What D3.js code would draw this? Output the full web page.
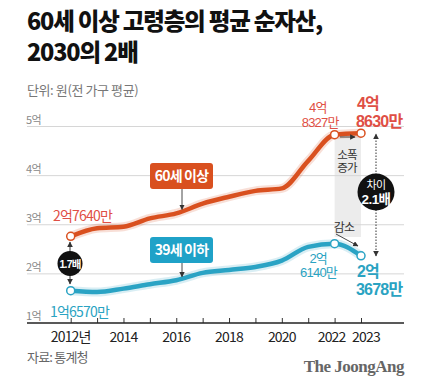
<!DOCTYPE html>
<html><head><meta charset="utf-8">
<script src="https://cdn.jsdelivr.net/npm/d3@7"></script>
<style>
html,body{margin:0;padding:0;background:#fff;}
svg{display:block;font-family:"Noto Sans CJK KR","Noto Sans",sans-serif;}
</style></head><body>
<script>
const years = [2012,2013,2014,2015,2016,2017,2018,2019,2020,2021,2022,2023];
const over60 = [2.764,2.93,2.96,3.13,3.23,3.43,3.57,3.69,3.74,4.30,4.8327,4.863];
const under39 = [1.657,1.63,1.70,1.79,1.87,2.02,2.08,2.14,2.27,2.55,2.614,2.3678];
const yTicks = [1,2,3,4,5];
const yTickLabels = ["1억","2억","3억","4억","5억"];
const xTickYears = [2012,2014,2016,2018,2020,2022,2023];
const xTickLabels = ["2012년","2014","2016","2018","2020","2022","2023"];
const seriesNames = ["60세 이상","39세 이하"];
const markedYears = [2012,2022,2023];

const W=430,H=380;
const ORANGE="#d9501f", BLUE="#2aa3c4", ORANGE_T="#df4f45", BLUE_T="#2aa3c2";
const LAB_FONT="'Liberation Sans','Noto Sans CJK KR',sans-serif";
const svg=d3.select("body").append("svg").attr("width",W).attr("height",H);

svg.append("text").attr("x",27).attr("y",30).attr("font-size",23.5).attr("font-weight",800)
  .attr("letter-spacing",-1.2).attr("fill","#111").text("60세 이상 고령층의 평균 순자산,");
svg.append("text").attr("x",27).attr("y",61).attr("font-size",23.5).attr("font-weight",800)
  .attr("letter-spacing",-1.2).attr("fill","#111").text("2030의 2배");
svg.append("text").attr("x",27).attr("y",94.5).attr("font-size",13).attr("fill","#777")
  .attr("letter-spacing",-0.4).text("단위: 원(전 가구 평균)");

const x=d3.scaleLinear().domain([2012,2023]).range([70.7,361]);
const y=d3.scaleLinear().domain([1,5]).range([323,126.5]);
const X0=27,X1=404;

// gray band
svg.append("rect").attr("x",x(2022)).attr("width",x(2023)-x(2022))
  .attr("y",y(4.83)).attr("height",y(2.75)-y(4.83)).attr("fill","#ececec");

// grid
yTicks.slice(1).forEach((t)=>{
  svg.append("line").attr("x1",X0).attr("x2",X1).attr("y1",y(t)).attr("y2",y(t))
    .attr("stroke","#d6d6d6").attr("stroke-width",1);
});
yTicks.forEach((t,i)=>{
  svg.append("text").attr("x",26).attr("y",y(t)-3).attr("font-size",11).attr("fill","#888")
    .attr("letter-spacing",-0.5).text(yTickLabels[i]);
});

// x axis
const ax=svg.append("g").attr("transform",`translate(0,${y(1)})`)
  .call(d3.axisBottom(x).tickValues(years).tickSize(-5).tickFormat(""));
ax.select(".domain").remove();
ax.selectAll(".tick line").attr("stroke","#333");
svg.append("line").attr("x1",X0).attr("x2",X1).attr("y1",y(1)).attr("y2",y(1)).attr("stroke","#222").attr("stroke-width",1.3);
xTickYears.forEach((yr,i)=>{
  let dx = yr===2022?-3:(yr===2023?5:0);
  svg.append("text").attr("x",x(yr)+dx).attr("y",342).attr("text-anchor","middle")
    .attr("font-size",14).attr("fill","#222").attr("letter-spacing",-0.8).text(xTickLabels[i]);
});

// lines
const line=d3.line().x((d,i)=>x(years[i])).y(d=>y(d)).curve(d3.curveMonotoneX);
[[over60,ORANGE],[under39,BLUE]].forEach(([data,c])=>{
  svg.append("path").attr("d",line(data)).attr("fill","none").attr("stroke",c)
    .attr("stroke-opacity",0.18).attr("stroke-width",9).attr("stroke-linejoin","round");
  svg.append("path").attr("d",line(data)).attr("fill","none").attr("stroke",c)
    .attr("stroke-width",4.5).attr("stroke-linejoin","round").attr("stroke-linecap","round");
  markedYears.forEach(yr=>{
    const i=years.indexOf(yr);
    svg.append("circle").attr("cx",x(yr)).attr("cy",y(data[i])).attr("r",4)
      .attr("fill","#fff").attr("stroke",c).attr("stroke-width",1.5);
  });
});

// arrow marker
const defs=svg.append("defs");
defs.append("marker").attr("id","ah").attr("viewBox","0 0 10 10").attr("refX",9).attr("refY",5)
  .attr("markerWidth",6).attr("markerHeight",6).attr("orient","auto-start-reverse")
  .append("path").attr("d","M0,0L10,5L0,10z").attr("fill","#333");

function interp(data,yr){const i=Math.floor(yr)-2012;const f=yr-Math.floor(yr);return data[i]*(1-f)+data[i+1]*f;}

// series boxes
[[seriesNames[0],ORANGE,163,over60],[seriesNames[1],"#1fa2c8",237,under39]].forEach(([name,c,top,data])=>{
  svg.append("rect").attr("x",150).attr("y",top).attr("width",63).attr("height",26).attr("rx",3).attr("fill",c);
  svg.append("text").attr("x",181.5).attr("y",top+18).attr("text-anchor","middle").attr("font-size",14)
    .attr("font-weight",700).attr("fill","#fff").attr("letter-spacing",-0.8).text(name);
  const ly=y(interp(data,2016.2));
  svg.append("line").attr("x1",182).attr("x2",182).attr("y1",top+26).attr("y2",ly-2)
    .attr("stroke","#333").attr("stroke-width",0.9).attr("marker-end","url(#ah)");
});

// value labels (multi-line as tspans in one text)
function lab(lines,xx,yy,c,size,wt,anchor,lh,fam){
  const t=svg.append("text").attr("x",xx).attr("y",yy).attr("font-size",size).attr("font-weight",wt)
    .attr("fill",c).attr("text-anchor",anchor||"start").attr("letter-spacing",-0.8);
  if(fam) t.attr("font-family",fam);
  [].concat(lines).forEach((s,i)=>{
    const ts=t.append("tspan").text(s.t!==undefined?s.t:s);
    ts.attr("x", xx + (s.dx||0));
    if(i>0) ts.attr("dy",lh);
  });
  return t;
}
lab("2억7640만",53,221,ORANGE_T,14,400);
lab("1억6570만",50,317,BLUE_T,14,400);
lab([{t:"4억",dx:-12},{t:"8327만",dx:0}],x(2022)+4,112,ORANGE_T,13,400,"end",14.8,LAB_FONT);
lab([{t:"4억",dx:1},{t:"8630만",dx:0}],356,108.5,ORANGE_T,16,700,"start",18.2,LAB_FONT);
lab([{t:"2억",dx:-10},{t:"6140만",dx:0}],337,262.5,BLUE_T,13,400,"end",14.8,LAB_FONT);
lab([{t:"2억",dx:1},{t:"3678만",dx:0}],356,276.5,BLUE_T,16,700,"start",18.2,LAB_FONT);

// 소폭 증가 / 감소
svg.append("line").attr("x1",340).attr("x2",355).attr("y1",137).attr("y2",137)
  .attr("stroke","#333").attr("stroke-width",0.9).attr("marker-end","url(#ah)");
lab(["소폭","증가"],347,159,"#333",11.5,400,"middle",13,LAB_FONT);
lab("감소",344,232,"#333",12,400,"middle",0,LAB_FONT);
svg.append("line").attr("x1",336).attr("x2",358).attr("y1",234).attr("y2",246)
  .attr("stroke","#333").attr("stroke-width",0.9).attr("marker-end","url(#ah)");

// dotted difference arrow
svg.append("line").attr("x1",376).attr("x2",376).attr("y1",256).attr("y2",134)
  .attr("stroke","#333").attr("stroke-width",1).attr("stroke-dasharray","1.5,1.5")
  .attr("marker-end","url(#ah)").attr("marker-start","url(#ah)");
svg.append("circle").attr("cx",376).attr("cy",192).attr("r",18.5).attr("fill","#111");
const dt=svg.append("text").attr("x",376).attr("y",188.5).attr("text-anchor","middle").attr("fill","#fff")
  .attr("letter-spacing",-0.6).attr("font-family",LAB_FONT);
dt.append("tspan").attr("x",376).attr("font-size",11).text("차이");
dt.append("tspan").attr("x",376).attr("dy",15).attr("font-size",13.5).attr("font-weight",700).text("2.1배");

// 1.7배
svg.append("line").attr("x1",70).attr("x2",70).attr("y1",284).attr("y2",242)
  .attr("stroke","#333").attr("stroke-width",1).attr("marker-end","url(#ah)").attr("marker-start","url(#ah)");
svg.append("circle").attr("cx",70).attr("cy",263.5).attr("r",12.5).attr("fill","#111");
lab("1.7배",70,267.5,"#fff",10.5,700,"middle",0,LAB_FONT);

// footer
lab("자료: 통계청",27,362,"#666",13,400);
svg.append("text").attr("x",404).attr("y",372).attr("text-anchor","end").attr("font-family","'Liberation Serif','DejaVu Serif',serif")
  .attr("font-size",17).attr("font-weight",700).attr("fill","#666").attr("letter-spacing",-0.5).text("The JoongAng");
</script></body></html>
